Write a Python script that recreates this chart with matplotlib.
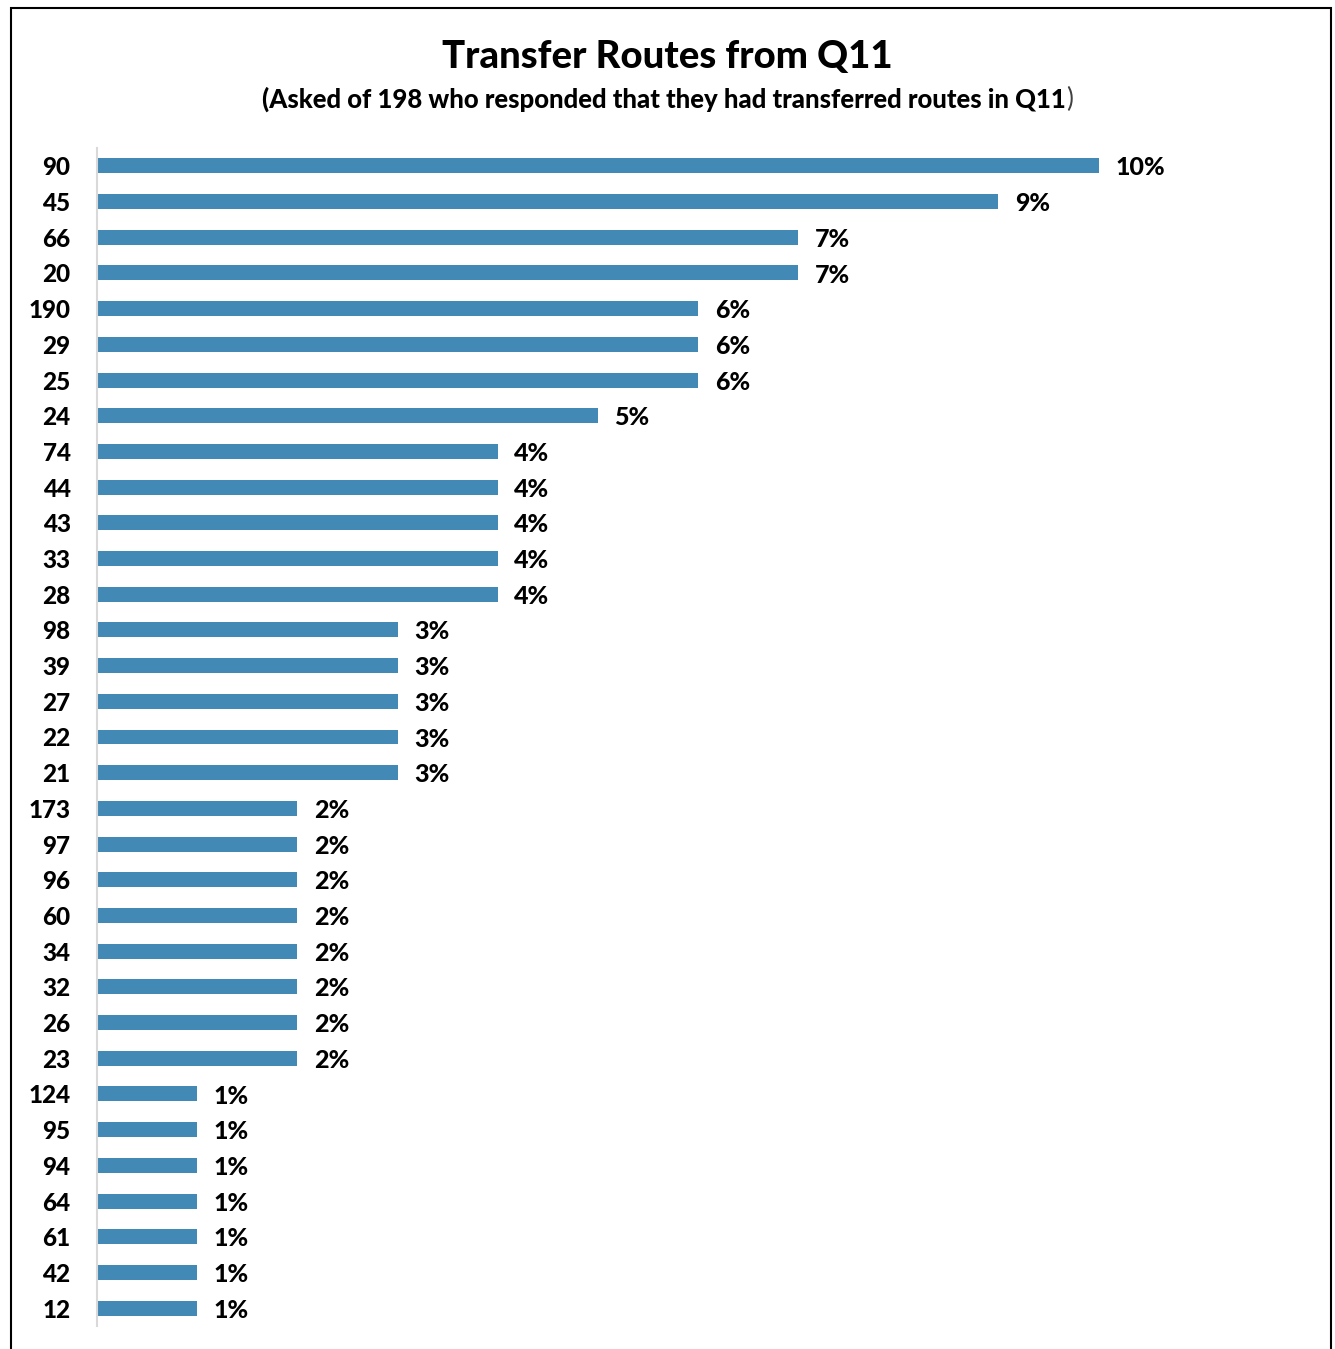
import matplotlib.pyplot as plt
from matplotlib.patches import Rectangle

routes = ["90", "45", "66", "20", "190", "29", "25", "24", "74", "44", "43",
          "33", "28", "98", "39", "27", "22", "21", "173", "97", "96", "60",
          "34", "32", "26", "23", "124", "95", "94", "64", "61", "42", "12"]
pcts = [10, 9, 7, 7, 6, 6, 6, 5, 4, 4, 4, 4, 4, 3, 3, 3, 3, 3,
        2, 2, 2, 2, 2, 2, 2, 2, 1, 1, 1, 1, 1, 1, 1]

title = "Transfer Routes from Q11"
subtitle = "(Asked of 198 who responded that they had transferred routes in Q11"

plt.rcParams['font.family'] = ['Lato', 'DejaVu Sans']
BW = 900  # heavy weight to match the reference's bold Calibri

W, H = 1335, 1349
fig = plt.figure(figsize=(W / 100, H / 100), dpi=100)

# outer frame (bottom edge runs off the image)
fig.patches.append(Rectangle((11 / W, -0.01), 1320 / W, 1 - 8 / H + 0.01,
                             transform=fig.transFigure, fill=False,
                             edgecolor='black', linewidth=1.5))

ax = fig.add_axes([97 / W, 1 - 1326 / H, 1202 / W, 1178 / H])
y = list(range(len(routes)))
ax.barh(y, pcts, height=0.42, color='#4389b5')
ax.set_ylim(len(routes) - 0.5, -0.5)
ax.set_xlim(0, 12)
ax.set_yticks(y)
ax.set_yticklabels(routes, fontsize=17.5, fontweight=BW)
ax.tick_params(axis='y', length=0, pad=19)
ax.set_xticks([])
for s in ['top', 'right', 'bottom']:
    ax.spines[s].set_visible(False)
ax.spines['left'].set_color('#d9d9d9')
ax.spines['left'].set_linewidth(1.5)

for yi, v in zip(y, pcts):
    ax.annotate(f"{v}%", (v, yi), xytext=(12, -1.5), textcoords='offset points',
                va='center', ha='left', fontsize=18, fontweight=BW)

fig.text(0.5, 1 - 57 / H, title, ha='center', va='center',
         fontsize=27.5, fontweight=BW)

# subtitle: bold body, closing paren in regular grey
r = fig.canvas.get_renderer()
t1 = fig.text(0.5, 1 - 99 / H, subtitle + ")", ha='center', va='center',
              fontsize=18.5, fontweight=BW, alpha=0)
bb = t1.get_window_extent(r)
t2 = fig.text(bb.x0 / W, 1 - 99 / H, subtitle, ha='left', va='center',
              fontsize=18.5, fontweight=BW)
bb2 = t2.get_window_extent(r)
fig.text(bb2.x1 / W, 1 - 99 / H, ")", ha='left', va='center',
         fontsize=18.5, color='#404040')

fig.savefig("out.png", dpi=100)
